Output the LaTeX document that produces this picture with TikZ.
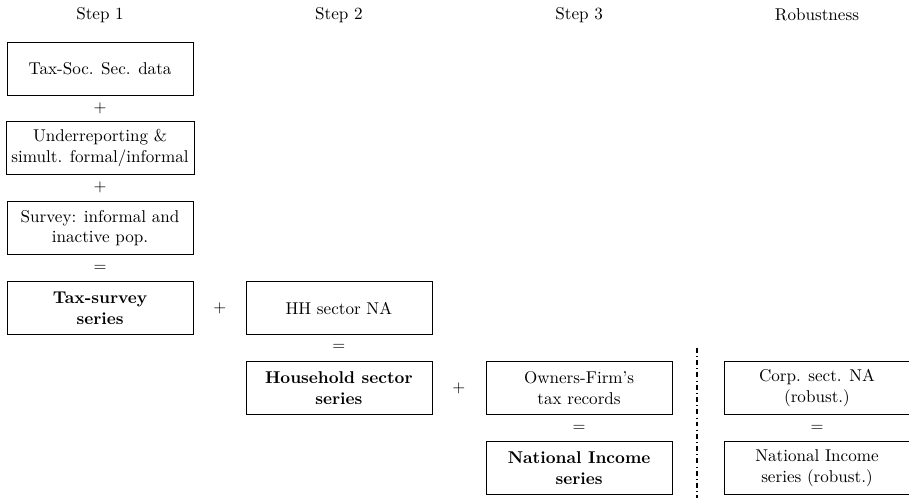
\documentclass[tikz,border=0pt]{standalone}
\usepackage{amsmath,amssymb}

\begin{document}
\begin{tikzpicture}[font=\fontsize{10.3}{12.3}\selectfont,
        box/.style={draw, align=center, minimum width=3.94cm, minimum height=1.12cm}]
        \useasboundingbox (0,0) rectangle (19.26,-10.55);
        % column headings
        \node (head1) at (2.12,-0.32) {Step 1};
        \node (head2) at (7.18,-0.32) {Step 2};
        \node (head3) at (12.27,-0.32) {Step 3};
        \node (head4) at (17.31,-0.32) {Robustness};
        % step 1
        \node[box] (taxsoc) at (2.12,-1.45) {Tax-Soc. Sec. data};
        \node (plus1) at (2.12,-2.30) {$+$};
        \node[box] (under) at (2.12,-3.14) {Underreporting \&\\simult. formal/informal};
        \node (plus2) at (2.12,-3.98) {$+$};
        \node[box] (survey) at (2.12,-4.83) {Survey: informal and\\inactive pop.};
        \node (eq1) at (2.12,-5.68) {$=$};
        \node[box] (taxsurvey) at (2.12,-6.53) {\textbf{Tax-survey}\\\textbf{series}};
        % step 2
        \node (plus3) at (4.66,-6.53) {$+$};
        \node[box] (hhna) at (7.18,-6.53) {HH sector NA};
        \node (eq2) at (7.18,-7.37) {$=$};
        \node[box] (hhseries) at (7.18,-8.22) {\textbf{Household sector}\\\textbf{series}};
        % step 3
        \node (plus4) at (9.72,-8.22) {$+$};
        \node[box] (owners) at (12.27,-8.22) {Owners-Firm's\\tax records};
        \node (eq3) at (12.27,-9.07) {$=$};
        \node[box] (natinc) at (12.27,-9.92) {\textbf{National Income}\\\textbf{series}};
        % robustness
        \node[box] (corp) at (17.31,-8.22) {Corp. sect. NA\\(robust.)};
        \node (eq4) at (17.31,-9.07) {$=$};
        \node[box] (natincrob) at (17.31,-9.92) {National Income\\series (robust.)};
        \draw[dash dot, line width=0.75pt] (14.77,-7.37) -- (14.77,-10.55);
      \end{tikzpicture}
\end{document}
